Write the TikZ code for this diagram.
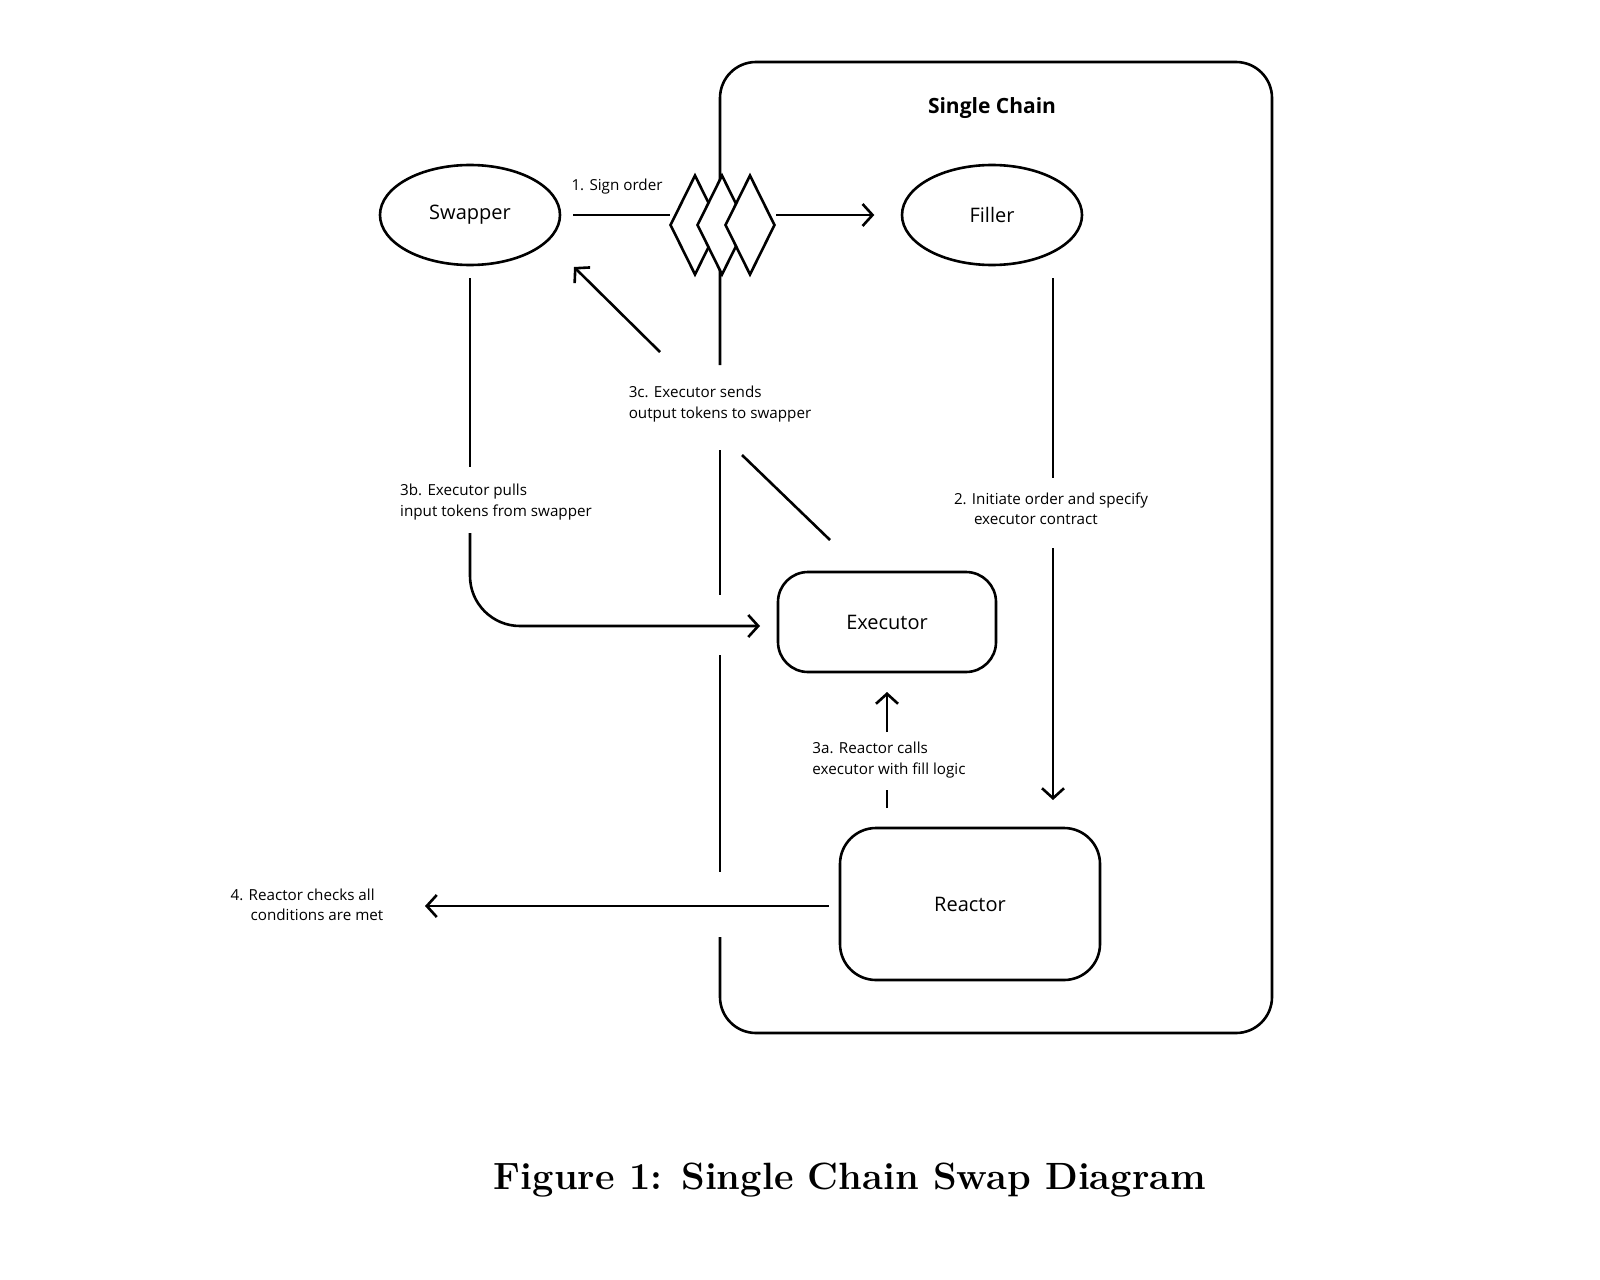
\documentclass[tikz,border=0pt]{standalone}
\usepackage{fontspec}
\setsansfont{Open Sans}
\usetikzlibrary{arrows.meta, shapes.geometric, positioning}

\tikzset{
	line/.style={line width=1.3pt},
	arr/.style={line, -{Straight Barb[length=5pt,width=11pt]}},
	lbl/.style={font=\sffamily\fontsize{7.6}{10.2}\selectfont, align=left},
	party/.style={draw, line, ellipse, minimum width=90pt, minimum height=50pt, font=\sffamily\fontsize{10}{12}\selectfont},
	box/.style={draw, line, rounded corners=15pt, font=\sffamily\fontsize{10}{12}\selectfont},
	order/.style={draw, line, diamond, fill=white, minimum width=25pt, minimum height=50pt, inner sep=0pt, aspect=0.5}
}

\begin{document}
\begin{tikzpicture}[x=0.5pt,y=-0.5pt]
	\useasboundingbox (0,0) rectangle (1600,1279);

	% chain boundary, left side broken for labels and arrows
	\draw [line, rounded corners=18pt] (720,365) -- (720,62) -- (1272,62) -- (1272,1033) -- (720,1033) -- (720,937);
	\draw [line] (720,450) -- (720,595);
	\draw [line] (720,655) -- (720,872);
	\node [font=\sffamily\bfseries\fontsize{10.5}{12}\selectfont] (chain) at (992,108) {Single Chain};

	\node [party] (swapper) at (470,215) {Swapper};
	\node [party] (filler) at (992,215) {Filler};
	\node [box, minimum width=109pt, minimum height=50pt] (executor) at (887,622) {Executor};
	\node [box, minimum width=130pt, minimum height=76pt, rounded corners=18pt] (reactor) at (970,904) {Reactor};

	% signed order
	\node [order] (o1) at (695,225) {};
	\node [order] (o2) at (722,225) {};
	\node [order] (o3) at (750,225) {};
	\coordinate (s1) at (573,215);
	\coordinate (s2) at (670,215);
	\draw [line] (s1) -- (s2);
	\draw [arr] (o3.east |- filler) -- ++(98,0) coordinate (s3);
	\node [lbl] (l1) at (617,187) {1. Sign order};

	% filler initiates
	\coordinate (f1) at (1053,278);
	\coordinate (f2) at (1053,478);
	\coordinate (f3) at (1053,548);
	\coordinate (f4) at (1053,800);
	\draw [line] (f1) -- (f2);
	\draw [arr] (f3) -- (f4);
	\node [lbl] (l2) at (1051,509) {2. Initiate order and specify\\\hspace*{10pt}executor contract};

	% 3a
	\coordinate (a1) at (887,808);
	\coordinate (a2) at (887,790);
	\coordinate (a3) at (887,732);
	\draw [line] (a1) -- (a2);
	\draw [arr] (a3) -- (executor.south |- 0,692);
	\node [lbl] (l3a) at (889,760) {3a. Reactor calls\\executor with fill logic};

	% 3b
	\coordinate (b1) at (470,278);
	\coordinate (b2) at (470,467);
	\coordinate (b3) at (470,533);
	\draw [line] (b1) -- (b2);
	\draw [arr, rounded corners=25pt] (b3) -- (470,626) -- (760,626);
	\node [lbl] (l3b) at (496,502) {3b. Executor pulls\\input tokens from swapper};

	% 3c
	\coordinate (c1) at (830,540);
	\coordinate (c2) at (742,455);
	\coordinate (c3) at (660,352);
	\coordinate (c4) at (574,267);
	\draw [line] (c1) -- (c2);
	\draw [arr] (c3) -- (c4);
	\node [lbl] (l3c) at (720,404) {3c. Executor sends\\output tokens to swapper};

	% 4
	\coordinate (d1) at (425,906);
	\draw [arr] (reactor.west |- 0,906) ++(-10,0) -- (d1);
	\node [lbl] (l4) at (307,905) {4. Reactor checks all\\\hspace*{10pt}conditions are met};

	\node [font=\bfseries\fontsize{19}{22}\selectfont] (caption) at (850,1180) {Figure 1: Single Chain Swap Diagram};
\end{tikzpicture}
\end{document}
